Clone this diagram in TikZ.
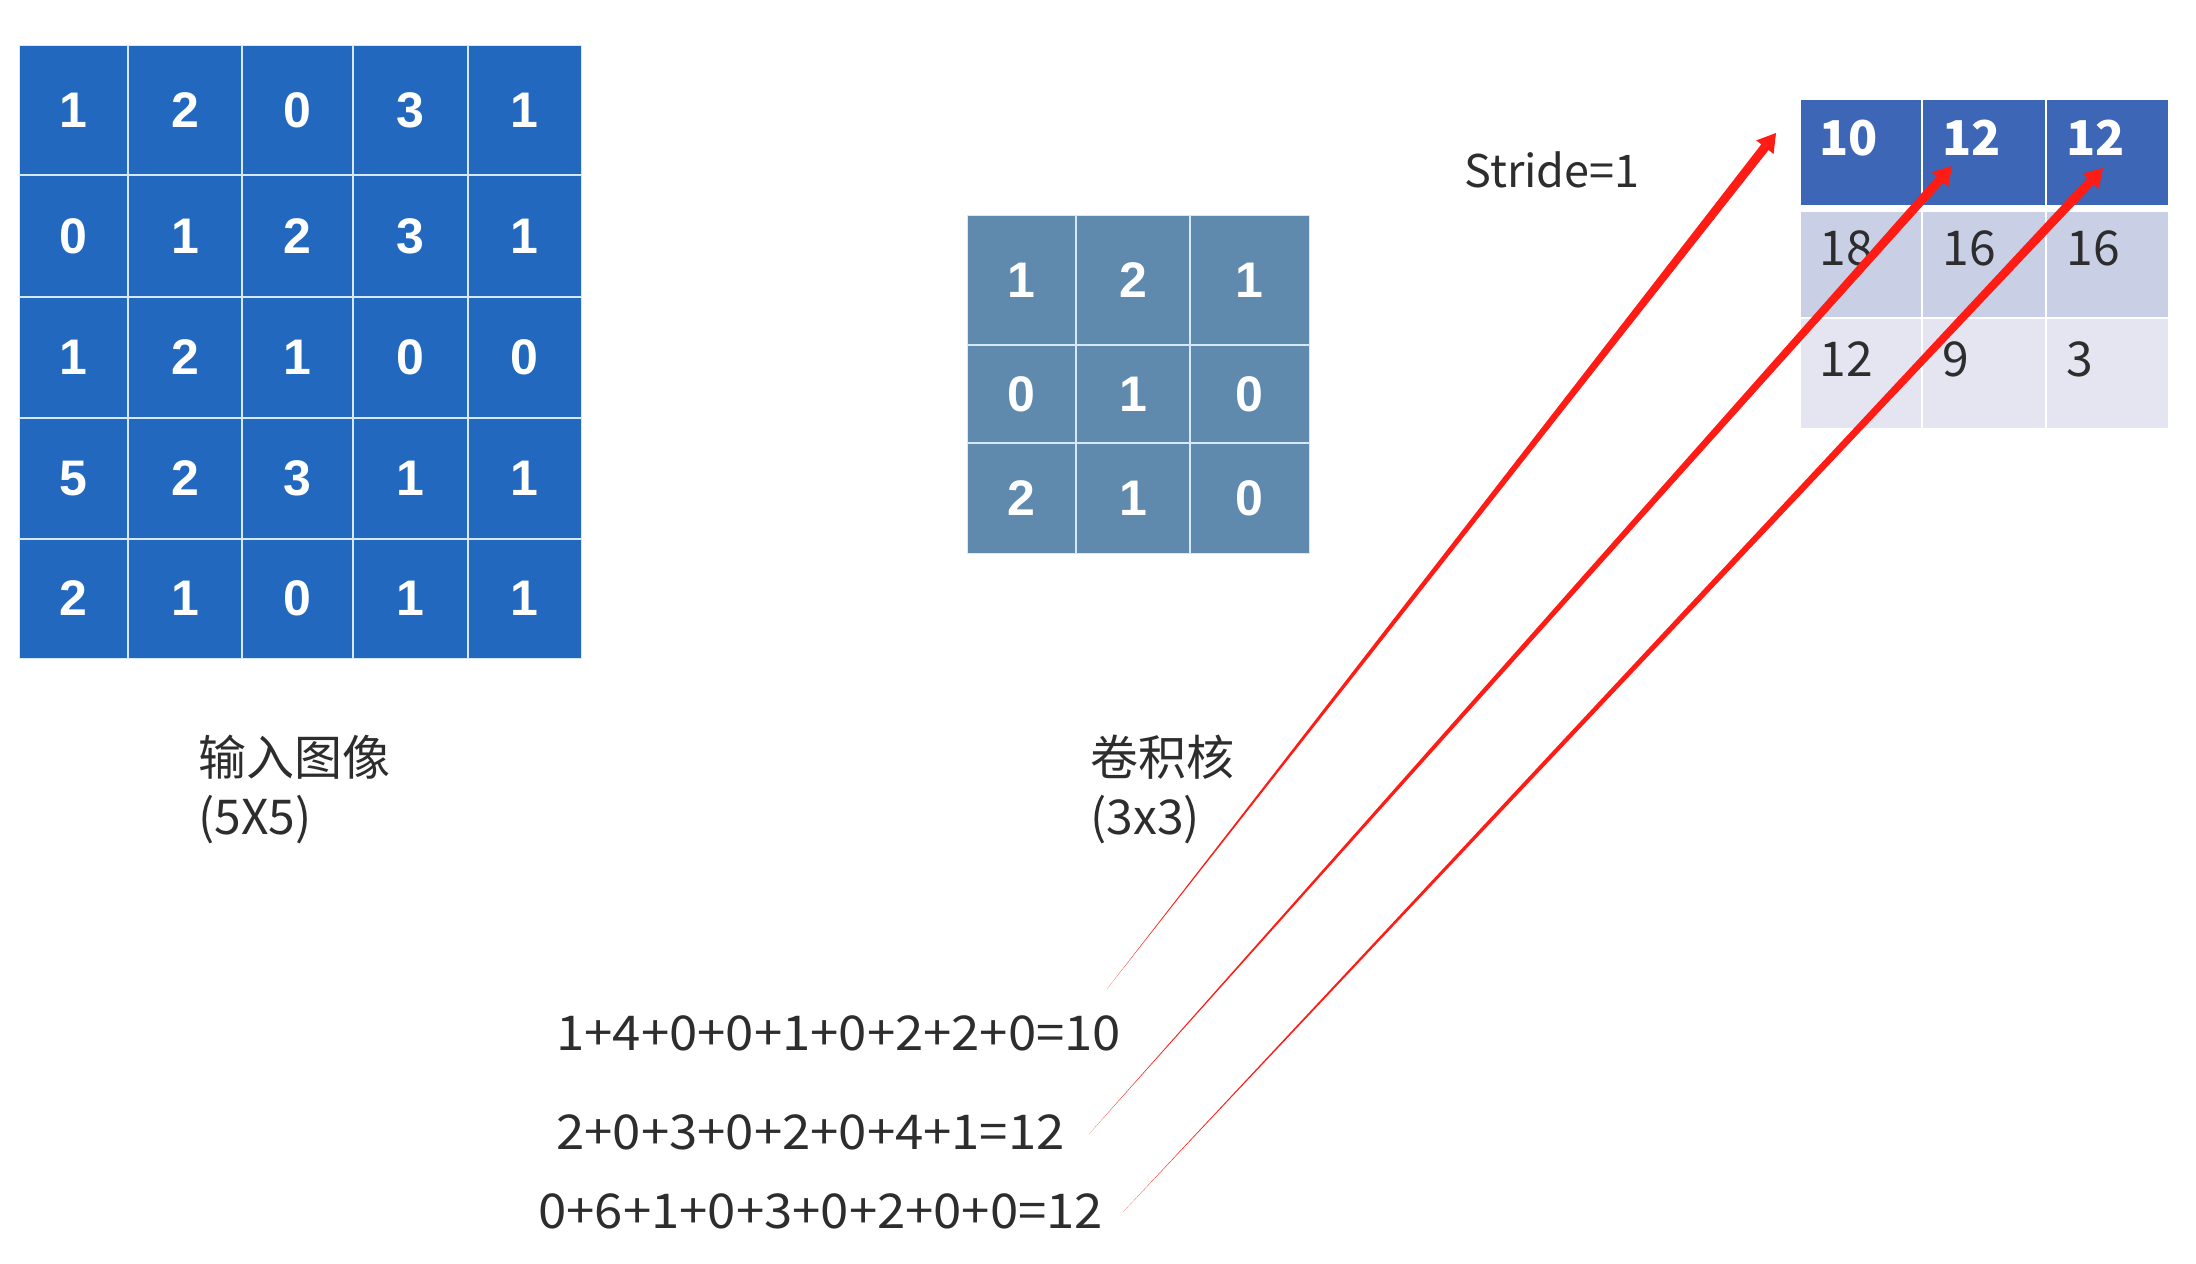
\documentclass[tikz,border=0pt]{standalone}
\usepackage{graphicx}
\usepackage{fontspec}
\setmainfont{Liberation Sans}
\newfontfamily\cjk{Noto Sans CJK SC}
\usetikzlibrary{calc}
\definecolor{inblue}{RGB}{33,104,190}
\definecolor{kblue}{RGB}{95,137,173}
\definecolor{oone}{RGB}{61,102,183}
\definecolor{otwo}{RGB}{201,207,229}
\definecolor{othree}{RGB}{228,229,241}
\definecolor{gridc}{RGB}{214,232,252}
\definecolor{arrred}{RGB}{255,28,20}
\definecolor{txt}{RGB}{45,45,45}
\newcommand\taperarrow[3]{%
  \coordinate (#3n) at ($(#2)!9pt!(#1)$);
  \fill[arrred] (#1) -- ($(#3n)!2.3pt!90:(#2)$) -- ($(#3n)!5.5pt!90:(#2)$) -- (#2)
     -- ($(#3n)!5.5pt!-90:(#2)$) -- ($(#3n)!2.3pt!-90:(#2)$) -- cycle;}
\newcommand\widetext[1]{\scalebox{1.06}[1]{#1}}
\begin{document}
\begin{tikzpicture}[x=0.5pt,y=-0.5pt,
  gridln/.style={draw=gridc,line width=1.3pt},
  indig/.style={text=white,inner sep=0pt,font=\fontsize{25}{28}\selectfont\bfseries},
  outbold/.style={text=white,inner sep=0pt,anchor=base west,font=\cjk\fontsize{24}{28}\selectfont\bfseries},
  outreg/.style={text=txt,inner sep=0pt,anchor=base west,font=\cjk\fontsize{24}{28}\selectfont},
  lbl/.style={text=txt,inner sep=0pt,anchor=base west,font=\cjk\fontsize{24}{28}\selectfont}]
\useasboundingbox (0,0) rectangle (2196,1264);
\fill[white] (0,0) rectangle (2196,1264);

% input image 5x5
\fill[inblue] (19,45) rectangle (581,658);
\foreach \x in {128,242,353,468} \draw[gridln] (\x,45) -- (\x,658);
\foreach \y in {175,297,418,539} \draw[gridln] (19,\y) -- (581,\y);
\draw[gridc,line width=0.5pt] (19,45) rectangle (581,658);
\foreach \x/\v [count=\c] in {73.5/1,185/2,297.5/0,410.5/3,524.5/1} \node[indig] (ia\c) at (\x,110) {\v};
\foreach \x/\v [count=\c] in {73.5/0,185/1,297.5/2,410.5/3,524.5/1} \node[indig] (ib\c) at (\x,236) {\v};
\foreach \x/\v [count=\c] in {73.5/1,185/2,297.5/1,410.5/0,524.5/0} \node[indig] (ic\c) at (\x,357.5) {\v};
\foreach \x/\v [count=\c] in {73.5/5,185/2,297.5/3,410.5/1,524.5/1} \node[indig] (id\c) at (\x,478.5) {\v};
\foreach \x/\v [count=\c] in {73.5/2,185/1,297.5/0,410.5/1,524.5/1} \node[indig] (ie\c) at (\x,598.5) {\v};

% kernel 3x3
\fill[kblue] (967,215) rectangle (1309,553);
\foreach \x in {1076,1190} \draw[gridln] (\x,215) -- (\x,553);
\foreach \y in {345,443} \draw[gridln] (967,\y) -- (1309,\y);
\draw[gridc,line width=0.5pt] (967,215) rectangle (1309,553);
\foreach \x/\v [count=\c] in {1021.5/1,1133/2,1249.5/1} \node[indig] (ka\c) at (\x,280) {\v};
\foreach \x/\v [count=\c] in {1021.5/0,1133/1,1249.5/0} \node[indig] (kb\c) at (\x,394) {\v};
\foreach \x/\v [count=\c] in {1021.5/2,1133/1,1249.5/0} \node[indig] (kc\c) at (\x,498) {\v};

% output
\fill[oone] (1801,100) rectangle (2168,205);
\fill[otwo] (1801,212) rectangle (2168,318);
\fill[othree] (1801,318) rectangle (2168,428);
\foreach \x in {1922,2046} \draw[white,line width=1.3pt] (\x,100) -- (\x,428);
\draw[white,line width=1pt] (1801,318) -- (2168,318);
\node[outbold] (oa1) at (1819,155) {10};
\node[outbold] (oa2) at (1942,155) {12};
\node[outbold] (oa3) at (2066,155) {12};
\node[outreg] (ob1) at (1819,265) {18};
\node[outreg] (ob2) at (1942,265) {16};
\node[outreg] (ob3) at (2066,265) {16};
\node[outreg] (oc1) at (1819,376) {12};
\node[outreg] (oc2) at (1942,376) {9};
\node[outreg] (oc3) at (2066,376) {3};

% labels
\node[lbl,font=\cjk\fontsize{22.5}{26}\selectfont] (stride) at (1464,187) {Stride=1};
\node[lbl] (inlbl) at (198,775) {输入图像};
\node[lbl] (insz) at (198,834) {(5X5)};
\node[lbl] (klbl) at (1090,775) {卷积核};
\node[lbl] (ksz) at (1090,834) {(3x3)};
\node[lbl] (f1) at (556,1050) {\widetext{1+4+0+0+1+0+2+2+0=10}};
\node[lbl] (f2) at (556,1149) {\widetext{2+0+3+0+2+0+4+1=12}};
\node[lbl] (f3) at (538,1228) {\widetext{0+6+1+0+3+0+2+0+0=12}};

% arrows
\coordinate (s1) at (1107,989);
\coordinate (t1) at (1776,133);
\coordinate (s2) at (1089,1134);
\coordinate (t2) at (1952,166);
\coordinate (s3) at (1123,1212);
\coordinate (t3) at (2103,168);
\taperarrow{s1}{t1}{a}
\taperarrow{s2}{t2}{b}
\taperarrow{s3}{t3}{c}
\end{tikzpicture}
\end{document}
